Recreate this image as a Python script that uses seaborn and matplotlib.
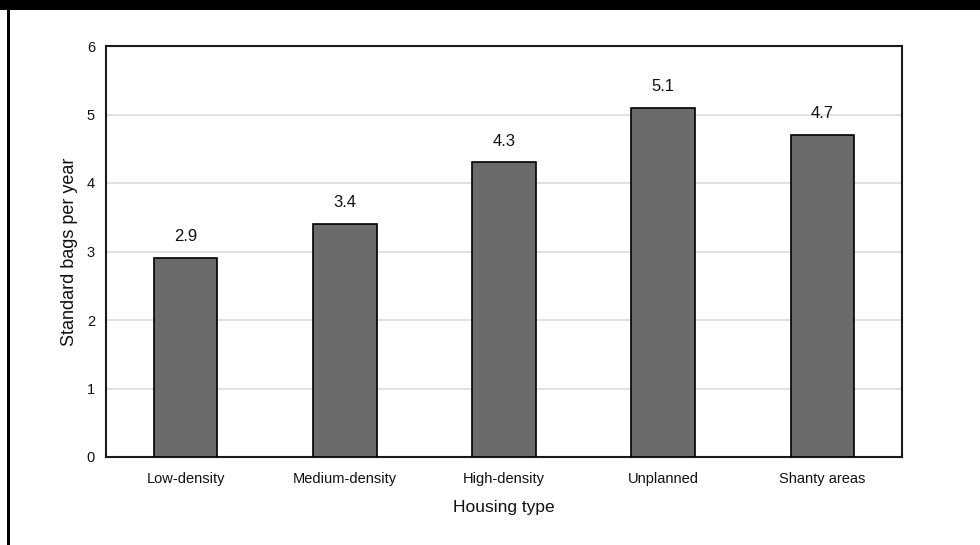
import matplotlib
matplotlib.use("Agg")
import matplotlib.pyplot as plt
from matplotlib.patches import Rectangle
import seaborn as sns
import pandas as pd

housing_types = ["Low-density", "Medium-density", "High-density", "Unplanned", "Shanty areas"]
bags_per_year = [2.9, 3.4, 4.3, 5.1, 4.7]
y_ticks = [0, 1, 2, 3, 4, 5, 6]

sns.set_theme(style="white")
plt.rcParams["font.family"] = ["Liberation Sans", "DejaVu Sans"]

df = pd.DataFrame({"Housing type": housing_types, "Bags": bags_per_year})

fig = plt.figure(figsize=(9.8, 5.45), dpi=100)
fig.patch.set_facecolor("white")
ax = fig.add_axes([106 / 980, 88 / 545, 796 / 980, 411 / 545])

sns.barplot(data=df, x="Housing type", y="Bags", color="#6b6b6b",
            saturation=1, edgecolor="black", linewidth=1.2, width=0.4, ax=ax,
            zorder=3)

ax.bar_label(ax.containers[0], fmt="%.1f", padding=10, fontsize=12, color="#111111")

ax.set_xlim(-0.5, len(housing_types) - 0.5)
ax.set_ylim(0, 6)
ax.set_yticks(y_ticks)
ax.set_yticklabels([str(t) for t in y_ticks])
ax.yaxis.grid(True, color="#dcdcdc", linewidth=1.2, zorder=0)
ax.set_axisbelow(True)

ax.tick_params(axis="y", length=0, pad=8, labelsize=10.5, colors="#111111")
ax.tick_params(axis="x", length=0, pad=11, labelsize=10.5, colors="#111111")

ax.set_xlabel("Housing type", fontsize=12.5, labelpad=10, color="#111111")
ax.set_ylabel("Standard bags per year", fontsize=13, labelpad=6, color="#111111")

for side in ["left", "right", "top", "bottom"]:
    ax.spines[side].set_visible(True)
    ax.spines[side].set_color("#1a1a1a")
    ax.spines[side].set_linewidth(1.5)

# dark header band and left rule of the figure panel
fig.patches.append(Rectangle((0, 535 / 545), 1, 10 / 545, transform=fig.transFigure,
                             facecolor="black", edgecolor="none", zorder=10))
fig.patches.append(Rectangle((7 / 980, 0), 3 / 980, 1, transform=fig.transFigure,
                             facecolor="black", edgecolor="none", zorder=10))

fig.savefig("out.png", dpi=100, facecolor="white")
